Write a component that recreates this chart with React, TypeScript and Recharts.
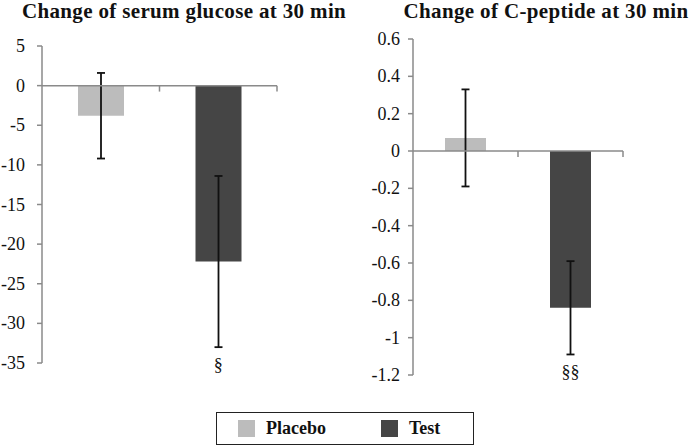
import { BarChart, Bar, Cell, XAxis, YAxis, ErrorBar, ReferenceLine, ReferenceDot } from "recharts";

const GROUPS = ["Placebo", "Test"];
const COLORS = ["#bcbcbc", "#454545"];

// serum glucose change at 30 min
const GLUCOSE_MEAN = [-3.8, -22.2];
const GLUCOSE_ERR = [5.4, 10.8];
const GLUCOSE_SIG = ["", "§"];
const GLUCOSE_TICKS = [5, 0, -5, -10, -15, -20, -25, -30, -35];

// C-peptide change at 30 min
const PEPTIDE_MEAN = [0.07, -0.84];
const PEPTIDE_ERR = [0.26, 0.25];
const PEPTIDE_SIG = ["", "§§"];
const PEPTIDE_TICKS = [0.6, 0.4, 0.2, 0, -0.2, -0.4, -0.6, -0.8, -1, -1.2];

const SERIF = "Liberation Serif";
const AXIS = "#8a8a8a";

// plain serif tick text, right aligned against the axis
const SerifTick = (props: any) => {
  const { x, y, payload } = props;
  return (
    <text x={x} y={y} dy={6} textAnchor="end" fill="#111" fontSize={18} fontFamily={SERIF}>
      {String(payload.value)}
    </text>
  );
};

const SigLabel = (props: any) => {
  const { viewBox, value } = props;
  return (
    <text
      x={viewBox.x + viewBox.width / 2}
      y={viewBox.y + viewBox.height + 23}
      textAnchor="middle"
      fill="#111"
      fontSize={18}
      fontFamily={SERIF}
    >
      {value}
    </text>
  );
};

type PanelProps = {
  title: string;
  means: number[];
  errs: number[];
  sigs: string[];
  ticks: number[];
  left: number;
  width: number;
  height: number;
  margin: { top: number; right: number; bottom: number; left: number };
  yWidth: number;
  tickMargin: number;
  barSize: number;
  markLen: number;
  titleCenter: number;
};

function Panel(p: PanelProps) {
  const data = GROUPS.map((g, i) => ({ group: g, value: p.means[i], err: p.errs[i], sig: p.sigs[i] }));
  const lo = p.ticks[p.ticks.length - 1];
  const hi = p.ticks[0];
  return (
    <>
      <div
        style={{
          position: "absolute",
          left: p.titleCenter - 200,
          width: 400,
          top: 0,
          textAlign: "center",
          fontFamily: SERIF,
          fontWeight: "bold",
          fontSize: 21,
          letterSpacing: 0.35,
          lineHeight: "22px",
          whiteSpace: "nowrap",
          color: "#111",
        }}
      >
        {p.title}
      </div>
      <div style={{ position: "absolute", left: p.left, top: 0, fontFamily: SERIF }}>
        <BarChart width={p.width} height={p.height} data={data} margin={p.margin} style={{ fontFamily: SERIF }}>
          <XAxis dataKey="group" hide />
          <YAxis
            domain={[lo, hi]}
            ticks={p.ticks}
            interval={0}
            width={p.yWidth}
            tickSize={5}
            tickMargin={p.tickMargin}
            axisLine={{ stroke: AXIS, strokeWidth: 1.5 }}
            tickLine={{ stroke: AXIS, strokeWidth: 1.5 }}
            tick={SerifTick}
          />
          <Bar dataKey="value" barSize={p.barSize} isAnimationActive={false}>
            {data.map((d, i) => (
              <Cell key={d.group} fill={COLORS[i]} />
            ))}
            <ErrorBar dataKey="err" width={4} strokeWidth={1.8} stroke="#111" direction="y" />
          </Bar>
          <ReferenceLine y={0} stroke={AXIS} strokeWidth={1.5} />
          {data.map((d) => (
            <ReferenceLine
              key={"m" + d.group}
              position="end"
              segment={[
                { x: d.group, y: 0 },
                { x: d.group, y: -p.markLen },
              ]}
              stroke={AXIS}
              strokeWidth={1.5}
            />
          ))}
          {data
            .filter((d) => d.sig)
            .map((d) => (
              <ReferenceDot
                key={"s" + d.group}
                x={d.group}
                y={d.value - d.err}
                r={1}
                fill="none"
                stroke="none"
                label={<SigLabel value={d.sig} />}
              />
            ))}
        </BarChart>
      </div>
    </>
  );
}

export default function App() {
  return (
    <div style={{ position: "absolute", left: 0, top: 0, width: 693, height: 448, background: "#fff", overflow: "hidden" }}>
      <Panel
        title="Change of serum glucose at 30 min"
        means={GLUCOSE_MEAN}
        errs={GLUCOSE_ERR}
        sigs={GLUCOSE_SIG}
        ticks={GLUCOSE_TICKS}
        left={0}
        width={300}
        height={385}
        margin={{ top: 46, right: 23, bottom: 22, left: 0 }}
        yWidth={42}
        tickMargin={12}
        barSize={46}
        markLen={0.75}
        titleCenter={184}
      />
      <Panel
        title="Change of C-peptide at 30 min"
        means={PEPTIDE_MEAN}
        errs={PEPTIDE_ERR}
        sigs={PEPTIDE_SIG}
        ticks={PEPTIDE_TICKS}
        left={330}
        width={310}
        height={395}
        margin={{ top: 39, right: 17, bottom: 20, left: 0 }}
        yWidth={83}
        tickMargin={8}
        barSize={41}
        markLen={0.032}
        titleCenter={546}
      />
      <div
        style={{
          position: "absolute",
          left: 216,
          top: 412,
          width: 256,
          height: 31,
          border: "1.5px solid #222",
          fontFamily: SERIF,
          fontWeight: "bold",
          fontSize: 18,
          color: "#111",
        }}
      >
        {GROUPS.map((g, i) => (
          <div key={g} style={{ display: "flex", alignItems: "center", position: "absolute", top: 7, left: i === 0 ? 21 : 164 }}>
            <span style={{ display: "inline-block", width: 17, height: 17, background: COLORS[i], marginRight: 11 }} />
            <span style={{ lineHeight: "17px" }}>{g}</span>
          </div>
        ))}
      </div>
    </div>
  );
}
